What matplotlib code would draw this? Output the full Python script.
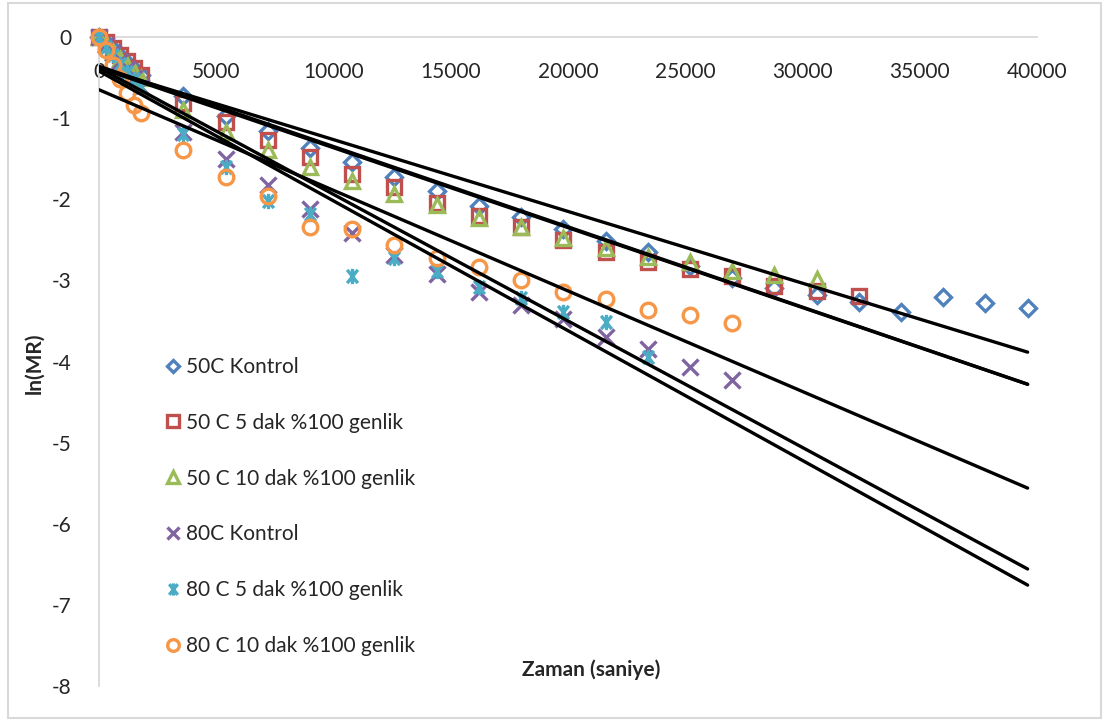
import matplotlib
matplotlib.use("Agg")
import matplotlib.pyplot as plt
from matplotlib.path import Path
from matplotlib.patches import Rectangle

# ---------------- data ----------------
time_s = [0, 300, 600, 900, 1200, 1500, 1800, 3600, 5400, 7200, 9000, 10800,
          12600, 14400, 16200, 18000, 19800, 21600, 23400, 25200, 27000,
          28800, 30600, 32400, 34200, 36000, 37800, 39600]

series_names = ["50C Kontrol", "50 C 5 dak %100 genlik", "50 C 10 dak %100 genlik",
                "80C Kontrol", "80 C 5 dak %100 genlik", "80 C 10 dak %100 genlik"]

ln_mr_50c_kontrol = [0, -0.07, -0.15, -0.24, -0.32, -0.40, -0.47, -0.73, -0.97, -1.16,
                     -1.37, -1.54, -1.72, -1.90, -2.08, -2.22, -2.37, -2.52, -2.65,
                     -2.82, -2.97, -3.10, -3.18, -3.27, -3.39, -3.21, -3.28, -3.34]
ln_mr_50c_5dak = [0, -0.06, -0.13, -0.22, -0.30, -0.38, -0.47, -0.81, -1.05, -1.27,
                  -1.48, -1.69, -1.85, -2.05, -2.21, -2.34, -2.50, -2.65, -2.77,
                  -2.86, -2.95, -3.07, -3.13, -3.19]
ln_mr_50c_10dak = [0, -0.09, -0.18, -0.27, -0.35, -0.42, -0.50, -0.90, -1.17, -1.39,
                   -1.60, -1.78, -1.93, -2.07, -2.23, -2.34, -2.48, -2.60, -2.71,
                   -2.77, -2.88, -2.93, -2.98]
ln_mr_80c_kontrol = [0, -0.10, -0.20, -0.30, -0.40, -0.50, -0.62, -1.17, -1.50, -1.83,
                     -2.12, -2.42, -2.69, -2.92, -3.14, -3.30, -3.48, -3.70, -3.85,
                     -4.07, -4.23]
ln_mr_80c_5dak = [0, -0.12, -0.22, -0.33, -0.43, -0.52, -0.62, -1.20, -1.60, -2.02,
                  -2.18, -2.95, -2.72, -2.88, -3.08, -3.22, -3.39, -3.51, -3.95]
ln_mr_80c_10dak = [0, -0.16, -0.35, -0.52, -0.69, -0.84, -0.94, -1.39, -1.72, -1.96,
                   -2.34, -2.37, -2.56, -2.72, -2.84, -3.00, -3.14, -3.23, -3.37,
                   -3.43, -3.53]

# linear trend lines (intercept, slope per second), drawn over 0..39600 s
trend_intercepts = [-0.38, -0.38, -0.36, -0.38, -0.42, -0.65]
trend_slopes = [-8.85e-5, -9.85e-5, -9.90e-5, -1.56e-4, -1.60e-4, -1.24e-4]
trend_range = [0, 39600]

x_ticks = [0, 5000, 10000, 15000, 20000, 25000, 30000, 35000, 40000]
y_ticks = [0, -1, -2, -3, -4, -5, -6, -7, -8]

# ---------------- style ----------------
plt.rcParams["font.family"] = ["Lato", "DejaVu Sans"]
colors = ["#4F81BD", "#C0504D", "#9BBB59", "#8064A2", "#4BACC6", "#F79646"]
star = Path([(-0.8, -1), (0.8, 1), (-0.8, 1), (0.8, -1), (0, -1.15), (0, 1.15)],
            [Path.MOVETO, Path.LINETO, Path.MOVETO, Path.LINETO, Path.MOVETO, Path.LINETO])
markers = ["D", "s", "^", "x", star, "o"]
msizes = [8.0, 10.5, 10.5, 11.5, 11.0, 10.5]

fig = plt.figure(figsize=(11.05, 7.22), dpi=100)
ax = fig.add_axes([99 / 1105, 1 - 686 / 722, (1037 - 99) / 1105, (686 - 37) / 722])

all_series = [ln_mr_50c_kontrol, ln_mr_50c_5dak, ln_mr_50c_10dak,
              ln_mr_80c_kontrol, ln_mr_80c_5dak, ln_mr_80c_10dak]

handles = []
for vals, name, c, m, ms in zip(all_series, series_names, colors, markers, msizes):
    h, = ax.plot(time_s[:len(vals)], vals, linestyle="none", marker=m, markersize=ms,
                 markerfacecolor="none", markeredgecolor=c, markeredgewidth=2.4,
                 label=name, zorder=3, clip_on=False)
    handles.append(h)

for b, s in zip(trend_intercepts, trend_slopes):
    ax.plot(trend_range, [b + s * trend_range[0], b + s * trend_range[1]],
            color="black", linewidth=2.4, zorder=4, solid_capstyle="round")

ax.set_xlim(0, 40000)
ax.set_ylim(-8, 0)
ax.set_xticks(x_ticks)
ax.set_yticks(y_ticks)
ax.set_xticklabels([str(t) for t in x_ticks])
ax.set_yticklabels([str(t) for t in y_ticks])
ax.xaxis.tick_top()
ax.tick_params(axis="both", length=0, labelsize=15, colors="#262626")
ax.tick_params(axis="x", pad=-25)
ax.tick_params(axis="y", pad=20)
for lbl in ax.get_xticklabels():
    lbl.set_verticalalignment("center")

for sp in ["right", "bottom"]:
    ax.spines[sp].set_visible(False)
ax.spines["top"].set_color("#d9d9d9")
ax.spines["top"].set_linewidth(1.3)
ax.spines["left"].set_color("#d9d9d9")
ax.spines["left"].set_linewidth(1.3)

fig.text(34 / 1105, 1 - 363 / 722, "ln(MR)", rotation=90, ha="center", va="center",
         fontsize=15, fontweight="bold", color="#262626")
fig.text(591 / 1105, 1 - 670 / 722, "Zaman (saniye)", ha="center", va="center",
         fontsize=15, fontweight="bold", color="#262626")

leg = ax.legend(handles=handles, loc="upper left", bbox_to_anchor=(0.062, 0.52),
                frameon=False, fontsize=15, labelspacing=1.72, handlelength=0.7,
                handletextpad=0.3, markerscale=0.8, borderaxespad=0)
for t in leg.get_texts():
    t.set_color("#262626")

fig.patches.append(Rectangle((8 / 1105, 1 - 718 / 722), (1101 - 8) / 1105, (718 - 3) / 722,
                             transform=fig.transFigure, fill=False,
                             edgecolor="#d9d9d9", linewidth=1.5))

fig.savefig("out.png", dpi=100)
